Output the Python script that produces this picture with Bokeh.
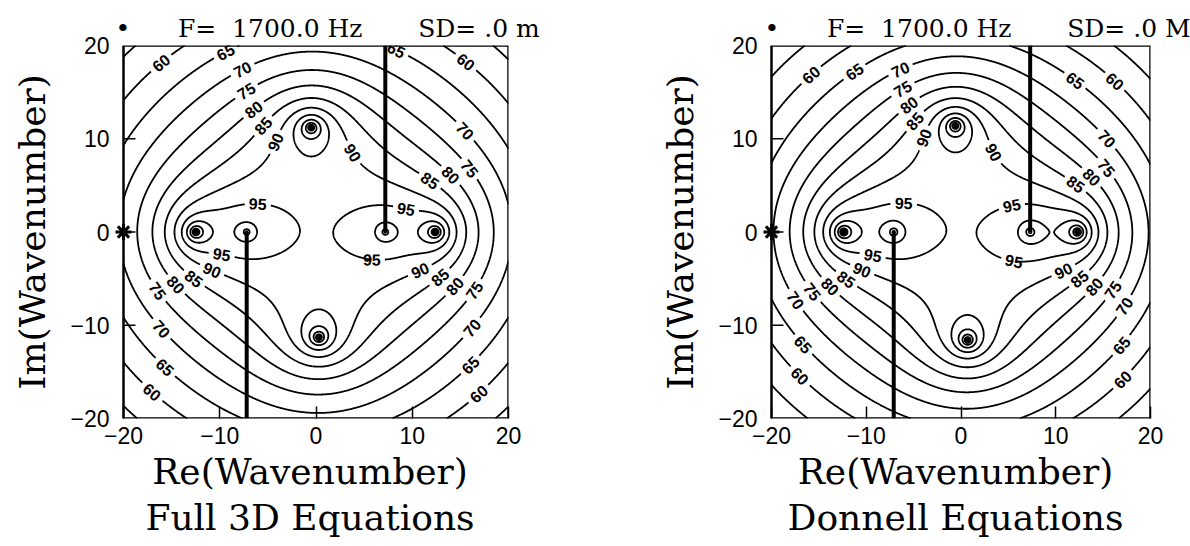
import numpy as np
import contourpy
from bokeh.plotting import figure
from bokeh.layouts import row
from bokeh.models import Title, Range1d, FixedTicker, ColumnDataSource
from bokeh.core.properties import value
from bokeh.embed import file_html
from bokeh.resources import INLINE

# ---------------- data ----------------
LEVELS = [55, 60, 65, 70, 75, 80, 85, 90, 95, 100, 105, 110]
TICKS = [-20, -10, 0, 10, 20]
INNER_TICKS = [-10, 0, 10]
TICK_TEXT = {-20: "\u221220", -10: "\u221210", 0: "0", 10: "10", 20: "20"}
BOX = [-20.0, 20.0]

# Full 3D equations panel
F3_POLE_RE = [12.4, -12.5, -0.5, 0.3]
F3_POLE_IM = [0.0, 0.0, 11.2, -11.3]
F3_BRANCH_RE = [7.2, -7.2]
F3_CUT_END_IM = [20.0, -20.0]
F3_CENTER_DB = 94.8
F3_POLE_EXP = 1.0
F3_BRANCH_EXP = 0.9
F3_LAB_LEVEL = [60, 65, 70, 75, 80, 85, 90, 65, 60, 90, 70, 75, 80, 85,
                95, 95, 95, 95, 90, 85, 80, 75, 90, 85, 80, 75, 70, 65, 60, 70, 65, 60]
F3_LAB_RE = [-15.2, -8.8, -6.9, -6.5, -5.8, -5.0, -4.1, 7.6, 14.6, 3.8, 15.6, 15.7, 13.6, 11.5,
             9.2, -6.1, -9.7, 5.9, -10.7, -12.6, -14.4, -16.4, 10.5, 12.5, 13.8, 15.9,
             -15.9, -15.5, -16.7, 15.9, 15.6, 16.4]
F3_LAB_IM = [17.0, 18.1, 15.9, 13.9, 12.2, 10.9, 9.6, 17.9, 17.0, 8.5, 10.9, 6.6, 5.7, 5.0,
             1.8, 1.8, -1.8, -1.8, -3.8, -4.9, -5.5, -6.3, -3.4, -4.4, -5.2, -5.9,
             -10.3, -14.3, -16.8, -10.0, -13.8, -16.8]

# Donnell equations panel
DN_POLE_RE = [12.3, -12.4, -0.6, 0.7]
DN_POLE_IM = [0.0, 0.0, 11.4, -11.6]
DN_BRANCH_RE = [7.3, -7.1]
DN_CUT_END_IM = [20.0, -20.0]
DN_CENTER_DB = 94.8
DN_POLE_EXP = 1.05
DN_BRANCH_EXP = 1.0
DN_LAB_LEVEL = [60, 65, 70, 75, 80, 85, 90, 65, 60, 90, 70, 75, 80, 85,
                95, 95, 95, 95, 90, 85, 80, 75, 70, 90, 85, 80, 75, 65, 60, 70, 65, 60]
DN_LAB_RE = [-15.6, -10.4, -5.7, -5.2, -4.7, -4.3, -3.9, 12.3, 17.0, 3.9, 17.0, 15.5, 13.5, 11.8,
             5.2, -6.1, -9.2, 5.8, -10.3, -12.0, -13.8, -15.7, -17.7, 10.5, 12.3, 13.7, 16.0,
             -16.9, -17.5, 17.3, 17.3, 17.5]
DN_LAB_IM = [16.6, 15.9, 15.9, 13.7, 12.6, 11.4, 10.1, 16.6, 17.0, 8.8, 11.5, 7.0, 5.6, 4.7,
             3.6, 1.8, -1.9, -1.7, -3.7, -4.9, -5.9, -6.4, -7.5, -3.5, -4.8, -5.5, -6.2,
             -12.3, -16.0, -8.0, -12.5, -16.3]

SOURCE_MARK_RE = [-20.0]
SOURCE_MARK_IM = [0.0]

SERIF = "DejaVu Serif"
SANS = "Liberation Sans"
NB = "\u00a0"
XPAD = 1.2  # extra room left of the box so the source mark is not clipped


def field(pole_re, pole_im, branch_re, center_db, pexp, qexp, n=801):
    g = np.linspace(BOX[0], BOX[1], n) + 1e-4
    X, Y = np.meshgrid(g, g)
    K = X + 1j * Y
    D = np.ones_like(K)
    D0 = 1.0 + 0j
    for a, b in zip(pole_re, pole_im):
        D = D * (K - complex(a, b))
        D0 = D0 * (-complex(a, b))
    S = (K - branch_re[0]) * (K - branch_re[1])
    S0 = branch_re[0] * branch_re[1]
    db = -20 * pexp * np.log10(np.maximum(np.abs(D), 1e-12)) - 10 * qexp * np.log10(np.maximum(np.abs(S), 1e-12))
    db0 = -20 * pexp * np.log10(abs(D0)) - 10 * qexp * np.log10(abs(S0))
    return g, db - db0 + center_db


def contours_with_labels(g, z, lab_lv, lab_x, lab_y, sx, sy, half=13.0):
    gen = contourpy.contour_generator(g, g, z)
    pieces = {lv: [np.asarray(s) for s in gen.lines(lv) if len(s) > 1] for lv in LEVELS}
    labs = []
    for lv, tx, ty in zip(lab_lv, lab_x, lab_y):
        segs = pieces.get(lv, [])
        best = None
        for si, seg in enumerate(segs):
            d = ((seg[:, 0] - tx) * sx) ** 2 + ((seg[:, 1] - ty) * sy) ** 2
            i = int(np.argmin(d))
            if best is None or d[i] < best[0]:
                best = (d[i], si, i)
        if best is None:
            continue
        _, si, i = best
        seg = segs[si]
        px, py = seg[:, 0] * sx, seg[:, 1] * sy
        s = np.concatenate([[0.0], np.cumsum(np.hypot(np.diff(px), np.diff(py)))])
        s0 = s[i]
        j0 = int(np.searchsorted(s, s0 - half))
        j1 = int(min(np.searchsorted(s, s0 + half), len(s) - 1))
        if j1 <= j0:
            j0, j1 = max(i - 1, 0), min(i + 1, len(s) - 1)
        ang = np.arctan2(py[j1] - py[j0], px[j1] - px[j0])
        if ang > np.pi / 2:
            ang -= np.pi
        elif ang < -np.pi / 2:
            ang += np.pi
        labs.append((seg[i, 0], seg[i, 1], ang, str(lv)))
        before = seg[s < s0 - half]
        after = seg[s > s0 + half]
        segs[si:si + 1] = [q for q in (before, after) if len(q) >= 2]
    xs, ys = [], []
    for lv in LEVELS:
        for seg in pieces[lv]:
            xs.append(seg[:, 0].tolist())
            ys.append(seg[:, 1].tolist())
    return xs, ys, labs


def panel(pole_re, pole_im, branch_re, cut_end, center_db, pexp, qexp,
          lab_lv, lab_x, lab_y, box_w, fh, box_left, br, sd_text, bottom_text):
    sx = box_w / 40.0
    sy = fh / 40.0
    fw = int(round(box_w + XPAD * sx))
    bl = int(round(box_left - XPAD * sx))
    p = figure(frame_width=fw, frame_height=fh,
               x_range=Range1d(BOX[0] - (fw - box_w) / sx, BOX[1]), y_range=Range1d(BOX[0], BOX[1]),
               output_backend="svg", toolbar_location=None,
               min_border_left=bl, min_border_right=br, min_border_top=45, min_border_bottom=128)
    g, z = field(pole_re, pole_im, branch_re, center_db, pexp, qexp)
    xs, ys, labs = contours_with_labels(g, z, lab_lv, lab_x, lab_y, sx, sy)
    p.multi_line(xs, ys, line_color="black", line_width=1.8)
    src = ColumnDataSource(dict(x=[l[0] for l in labs], y=[l[1] for l in labs],
                                a=[l[2] for l in labs], t=[l[3] for l in labs]))
    p.text(x="x", y="y", text="t", angle="a", source=src, text_font=value(SANS),
           text_font_style="bold", text_font_size="16px", text_align="center",
           text_baseline="middle", text_color="black")
    # plot box
    p.quad(left=[BOX[0]], right=[BOX[1]], bottom=[BOX[0]], top=[BOX[1]],
           fill_color=None, line_color="black", line_width=2.5)
    # inner ticks of the left side
    tl = 12.0 / sx
    p.segment(x0=[BOX[0]] * len(INNER_TICKS), y0=INNER_TICKS,
              x1=[BOX[0] + tl] * len(INNER_TICKS), y1=INNER_TICKS, line_color="black", line_width=1.5)
    # branch cuts
    p.segment(x0=branch_re, y0=[0.0, 0.0], x1=branch_re, y1=cut_end, line_color="black", line_width=4)
    # poles
    p.scatter(pole_re, pole_im, size=6, color="black")
    # source mark
    p.scatter(SOURCE_MARK_RE, SOURCE_MARK_IM, marker="asterisk", size=16, line_width=3, color="black")

    for ax in (p.xaxis[0], p.yaxis[0]):
        ax.ticker = FixedTicker(ticks=TICKS)
        ax.major_label_overrides = TICK_TEXT
        ax.minor_tick_in = 0
        ax.minor_tick_out = 0
        ax.axis_line_color = None
        ax.major_label_text_font = SANS
        ax.major_label_text_font_size = "23px"
        ax.major_label_text_color = "black"
        ax.axis_label_text_font = SERIF
        ax.axis_label_text_font_size = "36px"
        ax.axis_label_text_font_style = "normal"
        ax.axis_label_text_color = "black"
    p.xaxis.major_tick_in = 12
    p.xaxis.major_tick_out = 0
    p.xaxis.major_tick_line_width = 1.5
    p.yaxis.major_tick_in = 0
    p.yaxis.major_tick_out = 0
    p.xaxis.axis_label = "Re(Wavenumber)"
    p.yaxis.axis_label = "Im(Wavenumber)"
    p.xaxis.major_label_standoff = 8
    p.xaxis.axis_label_standoff = 4
    p.yaxis.major_label_standoff = int(round(14 - XPAD * sx))
    p.yaxis.axis_label_standoff = 14
    p.grid.visible = False
    p.outline_line_color = None

    t = Title(text=bottom_text, align="center", text_font=SERIF, text_font_size="36px",
              text_font_style="normal", text_color="black", standoff=0)
    p.add_layout(t, "below")

    top_text = "\u2022" + NB * 6 + "F=" + NB * 2 + "1700.0" + NB + "Hz" + NB * 7 + sd_text.replace(" ", NB)
    tt = Title(text=top_text, align="left", offset=int(round(XPAD * sx - 7.4)), text_font=SERIF,
               text_font_size="25px", text_font_style="normal", text_color="black", standoff=5)
    p.add_layout(tt, "above")
    return p


p1 = panel(F3_POLE_RE, F3_POLE_IM, F3_BRANCH_RE, F3_CUT_END_IM, F3_CENTER_DB, F3_POLE_EXP, F3_BRANCH_EXP,
           F3_LAB_LEVEL, F3_LAB_RE, F3_LAB_IM, 385, 373, 123, 87, "SD= .0 m", "Full 3D Equations")
p2 = panel(DN_POLE_RE, DN_POLE_IM, DN_BRANCH_RE, DN_CUT_END_IM, DN_CENTER_DB, DN_POLE_EXP, DN_BRANCH_EXP,
           DN_LAB_LEVEL, DN_LAB_RE, DN_LAB_IM, 379, 373, 176, 40, "SD= .0 M", "Donnell Equations")

layout = row(p1, p2)
open("out.html", "w").write(file_html(layout, INLINE))
